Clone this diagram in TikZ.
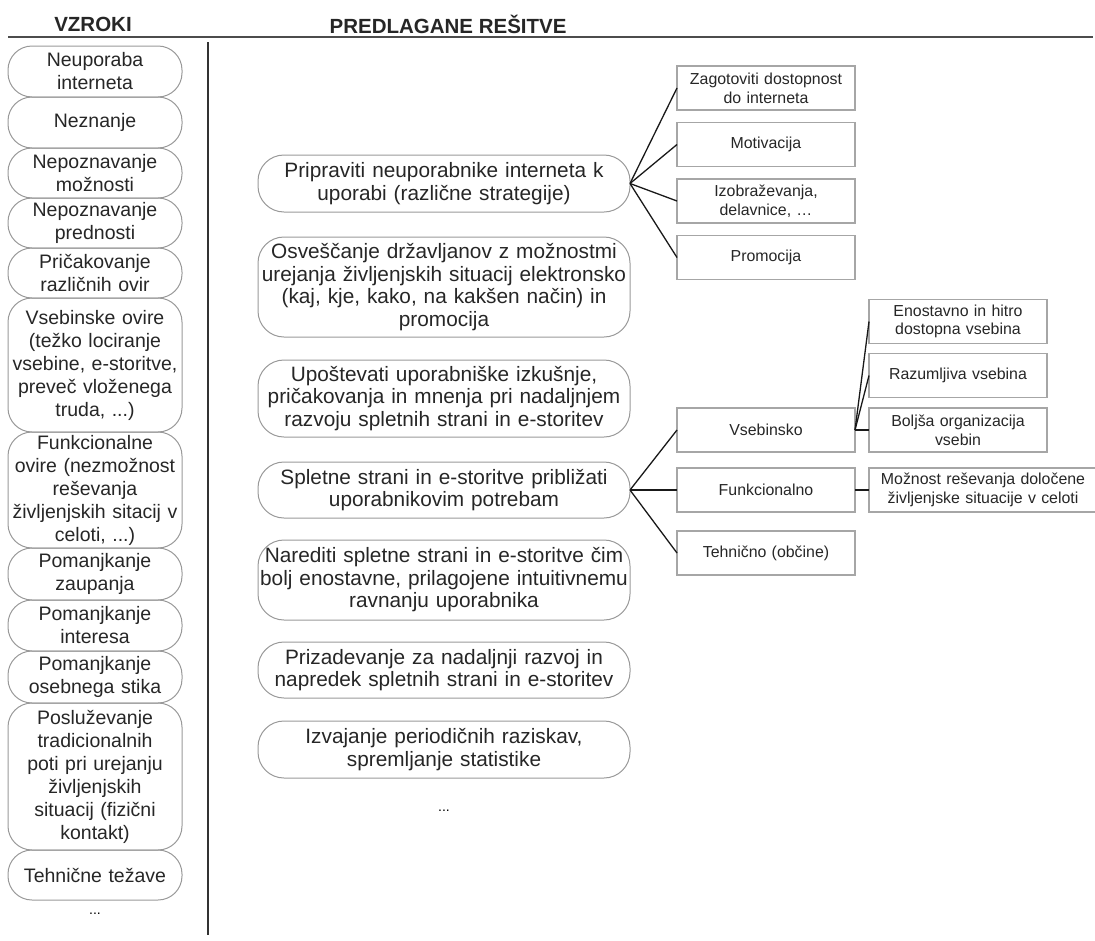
\documentclass[tikz,border=0pt]{standalone}
\usepackage{fontspec}
\setmainfont{Liberation Sans}
\usetikzlibrary{positioning}

\begin{document}
\begin{tikzpicture}[x=1pt ,y=-1pt ,node distance =12.5pt and 14pt ,
semithick ,
cause/.style ={ draw=gray!80 ,line width=1pt ,rounded corners=24pt ,text=black!85 ,
  align=center ,text width=172pt ,inner xsep=1pt ,inner ysep=0pt ,outer sep=0pt ,
  font=\fontsize{19.5}{23}\selectfont},
solution/.style ={ draw=gray!80 ,line width=1pt ,rounded corners=26pt ,text=black!85 ,
  align=center ,text width=370pt ,inner xsep=1pt ,inner ysep=0pt ,outer sep=0pt ,
  font=\fontsize{20.8}{22.5}\selectfont},
measure/.style ={ draw=gray!70 ,line width=1.2pt ,text=black!85 ,align=center ,
  text width=172pt ,inner xsep=3pt ,inner ysep=1pt ,outer sep=0pt ,minimum height=44pt ,
  font=\fontsize{15.9}{18.7}\selectfont},
head/.style ={ text=black!85 ,font=\fontsize{20.5}{25}\selectfont\bfseries },
link/.style ={ line width=1.3pt ,black!90 }]
\useasboundingbox (0,0) rectangle (1095,940);

% glavi stolpcev
\node[head] (VZ) at (93,24) {VZROKI};
\node[head ,anchor=west] (PR) at (326,24) {PREDLAGANE REŠITVE};
\draw[line width=2.5pt ,black!70] (8,37) -- (1093,37);
\draw[line width=2pt ,black!80] (208,42) -- (208,935);

% vzroki
\node[cause ,minimum height=51pt] (C1) at (95,71.5) {Neuporaba\\interneta};
\node[cause ,minimum height=51pt] (C2) [below=0pt of C1] {Neznanje};
\node[cause ,minimum height=50pt] (C3) [below=0pt of C2] {Nepoznavanje\\možnosti};
\node[cause ,minimum height=50pt] (C4) [below=0pt of C3] {Nepoznavanje\\prednosti};
\node[cause ,minimum height=50pt] (C5) [below=0pt of C4] {Pričakovanje\\različnih ovir};
\node[cause ,minimum height=134pt] (C6) [below=0pt of C5] {Vsebinske ovire\\(težko lociranje\\vsebine, e-storitve,\\preveč vloženega\\truda, ...)};
\node[cause ,minimum height=116pt] (C7) [below=0pt of C6] {Funkcionalne\\ovire (nezmožnost\\reševanja\\življenjskih sitacij v\\celoti, ...)};
\node[cause ,minimum height=52pt] (C8) [below=0pt of C7] {Pomanjkanje\\zaupanja};
\node[cause ,minimum height=51pt] (C9) [below=0pt of C8] {Pomanjkanje\\interesa};
\node[cause ,minimum height=52pt] (C10) [below=0pt of C9] {Pomanjkanje\\osebnega stika};
\node[cause ,minimum height=147pt] (C11) [below=0pt of C10] {Posluževanje\\tradicionalnih\\poti pri urejanju\\življenjskih\\situacij (fizični\\kontakt)};
\node[cause ,minimum height=50pt] (C12) [below=0pt of C11] {Tehnične težave};
\node[font=\fontsize{14}{16}\selectfont] (CD) at (95,914) {...};

% predlagane resitve
\node[solution ,minimum height=57pt] (S1) at (444,183.5) {Pripraviti neuporabnike interneta k\\uporabi (različne strategije)};
\node[solution ,minimum height=100pt] (S2) at (444,287) {Osveščanje državljanov z možnostmi\\urejanja življenjskih situacij elektronsko\\(kaj, kje, kako, na kakšen način) in\\promocija};
\node[solution ,minimum height=77pt] (S3) at (444,398.5) {Upoštevati uporabniške izkušnje,\\pričakovanja in mnenja pri nadaljnjem\\razvoju spletnih strani in e-storitev};
\node[solution ,minimum height=56pt] (S4) at (444,490) {Spletne strani in e-storitve približati\\uporabnikovim potrebam};
\node[solution ,minimum height=80pt] (S5) at (444,580) {Narediti spletne strani in e-storitve čim\\bolj enostavne, prilagojene intuitivnemu\\ravnanju uporabnika};
\node[solution ,minimum height=56pt] (S6) at (444,670) {Prizadevanje za nadaljnji razvoj in\\napredek spletnih strani in e-storitev};
\node[solution ,minimum height=57pt] (S7) at (444,749.5) {Izvajanje periodičnih raziskav,\\spremljanje statistike};
\node[font=\fontsize{14}{16}\selectfont] (SD) at (444,811) {...};

% ukrepi
\node[measure] (R1) at (766,88) {Zagotoviti dostopnost\\do interneta};
\node[measure] (R2) [below=12.5pt of R1] {Motivacija};
\node[measure] (R3) [below=12.5pt of R2] {Izobraževanja,\\delavnice, …};
\node[measure] (R4) [below=12.5pt of R3] {Promocija};

\node[measure] (V) at (766,430) {Vsebinsko};
\node[measure] (F) [below=16pt of V] {Funkcionalno};
\node[measure] (T) [below=19pt of F] {Tehnično (občine)};
\node[measure] (V3) [right=14pt of V] {Boljša organizacija\\vsebin};
\node[measure] (V2) [above=10.5pt of V3] {Razumljiva vsebina};
\node[measure] (V1) [above=10pt of V2] {Enostavno in hitro\\dostopna vsebina};
\node[measure ,text width=222pt] (F1) [right=14pt of F] {Možnost reševanja določene\\življenjske situacije v celoti};

\draw[link] (S1.east) -- (R1.west);
\draw[link] (S1.east) -- (R2.west);
\draw[link] (S1.east) -- (R3.west);
\draw[link] (S1.east) -- (R4.west);
\draw[link] (S4.east) -- (V.west);
\draw[link] (S4.east) -- (F.west);
\draw[link] (S4.east) -- (T.west);
\draw[link] (V.east) -- (V1.west);
\draw[link] (V.east) -- (V2.west);
\draw[link] (V.east) -- (V3.west);
\draw[link] (F.east) -- (F1.west);
\end{tikzpicture}
\end{document}
